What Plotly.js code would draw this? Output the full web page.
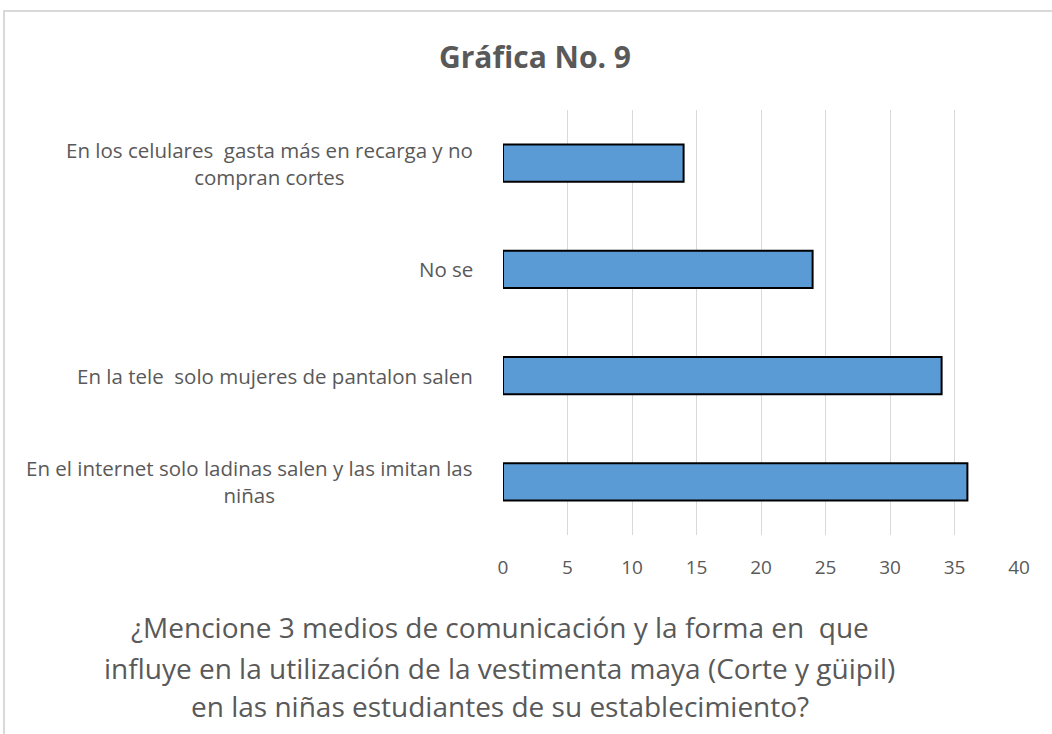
<!DOCTYPE html>
<html><head><meta charset="utf-8">
<script src="https://cdn.plot.ly/plotly-3.0.1.min.js"></script>
<style>html,body{margin:0;padding:0;background:#fff;}#chart{width:1052px;height:734px;}</style>
</head><body><div id="chart"></div>
<script>
// Categories listed bottom to top
const categories = [
  "En el internet solo ladinas salen y las imitan las<br>niñas",
  "En la tele  solo mujeres de pantalon salen",
  "No se",
  "En los celulares  gasta más en recarga y no<br>compran cortes"
];
const values = [36, 34, 24, 14];
const tickVals = [0, 5, 10, 15, 20, 25, 30, 35, 40];
const chartTitle = "Gráfica No. 9";
const xTitleLines = [
  "¿Mencione 3 medios de comunicación y la forma en  que",
  "influye en la utilización de la vestimenta maya (Corte y güipil)",
  "en las niñas estudiantes de su establecimiento?"
];

const FONT = "'Open Sans', sans-serif";
const GRAY = "#595959";

const trace = {
  type: "bar",
  orientation: "h",
  x: values,
  y: categories,
  width: 0.35,
  marker: {color: "#5b9bd5", line: {color: "#000000", width: 2}},
  hoverinfo: "x+y"
};

const annotations = [];
categories.forEach(c => {
  annotations.push({
    xref: "paper", yref: "y", x: -0.054, y: c,
    xanchor: "right", yanchor: "middle", align: "center",
    text: c, showarrow: false,
    font: {family: FONT, size: 20.5, color: GRAY}
  });
});
const lineY = [-0.2165, -0.313, -0.402];
xTitleLines.forEach((t, i) => {
  annotations.push({
    xref: "paper", yref: "paper", x: -0.006, y: lineY[i],
    xanchor: "center", yanchor: "middle",
    text: t, showarrow: false,
    font: {family: FONT, size: 28, color: GRAY}
  });
});
annotations.push({
  xref: "paper", yref: "paper", x: 0.062, y: 1.125,
  xanchor: "center", yanchor: "middle",
  text: "<b>" + chartTitle + "</b>", showarrow: false,
  font: {family: FONT, size: 30, color: GRAY}
});

const layout = {
  width: 1052, height: 734,
  margin: {l: 503, r: 33, t: 110, b: 199},
  paper_bgcolor: "#ffffff", plot_bgcolor: "#ffffff",
  showlegend: false,
  bargap: 0.65,
  xaxis: {
    range: [0, 40], tickvals: tickVals, ticktext: tickVals.map(String),
    showgrid: true, gridcolor: "#d9d9d9", gridwidth: 1,
    zeroline: false, showline: false, ticks: "",
    tickfont: {family: FONT, size: 19, color: GRAY}, ticklabelstandoff: 19
  },
  yaxis: {
    type: "category", categoryorder: "array", categoryarray: categories,
    showticklabels: false, showgrid: false, zeroline: false, showline: false, ticks: ""
  },
  annotations: annotations,
  shapes: [{
    type: "rect", xref: "paper", yref: "paper",
    x0: -0.967, x1: 1.2, y0: -0.6, y1: 1.233,
    line: {color: "#d9d9d9", width: 2}, fillcolor: "rgba(0,0,0,0)", layer: "below"
  }]
};

Plotly.newPlot("chart", [trace], layout, {displayModeBar: false, staticPlot: true});
</script></body></html>
